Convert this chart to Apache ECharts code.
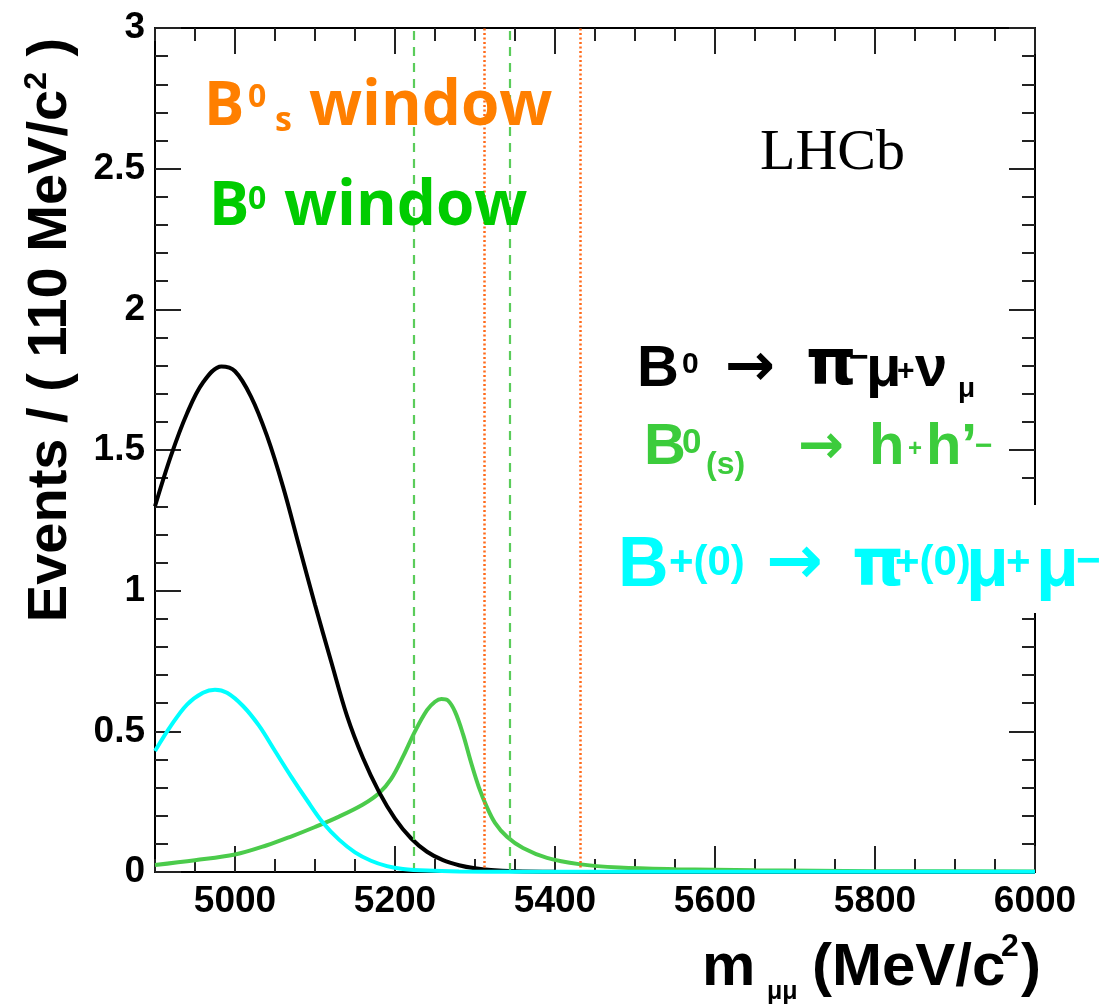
<!DOCTYPE html>
<html>
<head>
<meta charset="utf-8">
<script src="https://cdn.jsdelivr.net/npm/echarts@6/dist/echarts.min.js"></script>
<style>
  html, body { margin: 0; padding: 0; background: #fff; }
  #chart { width: 1105px; height: 1005px; }
</style>
</head>
<body>
<div id="chart"></div>
<script>
// Dimuon invariant mass (MeV/c^2) and expected events per 110 MeV/c^2 bin

// B0 -> pi- mu+ nu_mu
const massSemilep = [4900, 4920, 4940, 4960, 4983, 5000, 5020, 5040, 5060, 5080, 5100, 5120, 5140, 5160, 5180, 5200, 5220, 5240, 5260, 5280, 5300, 5320, 5350, 5400, 5500, 6000];
const evtSemilep  = [1.30, 1.48, 1.63, 1.74, 1.797, 1.78, 1.69, 1.55, 1.37, 1.16, 0.95, 0.75, 0.555, 0.405, 0.285, 0.19, 0.12, 0.072, 0.042, 0.024, 0.013, 0.007, 0.003, 0.001, 0, 0];

// B0(s) -> h+ h'- (misidentified)
const massPeaking = [4900, 4950, 5000, 5040, 5070, 5100, 5130, 5160, 5180, 5195, 5210, 5225, 5240, 5250, 5258, 5266, 5275, 5285, 5295, 5305, 5315, 5325, 5340, 5360, 5390, 5430, 5480, 5550, 5650, 5800, 6000];
const evtPeaking  = [0.025, 0.042, 0.062, 0.095, 0.126, 0.16, 0.197, 0.24, 0.28, 0.33, 0.41, 0.50, 0.575, 0.605, 0.615, 0.61, 0.57, 0.49, 0.39, 0.30, 0.23, 0.175, 0.125, 0.085, 0.050, 0.028, 0.016, 0.010, 0.006, 0.003, 0.002];

// B+(0) -> pi+(0) mu+ mu-
const massRare = [4900, 4920, 4940, 4960, 4975, 4990, 5010, 5030, 5050, 5070, 5090, 5110, 5130, 5150, 5170, 5190, 5210, 5240, 5280, 5350, 6000];
const evtRare  = [0.43, 0.52, 0.595, 0.637, 0.648, 0.637, 0.59, 0.52, 0.43, 0.34, 0.255, 0.175, 0.115, 0.07, 0.04, 0.021, 0.011, 0.005, 0.002, 0.001, 0.001];

// Signal mass windows
const windowB0 = [5224, 5344];
const windowBs = [5312, 5432];

// Axis ticks
const xMajorTicks = [5000, 5200, 5400, 5600, 5800, 6000];
const xRange = [4900, 6000];
const yRange = [0, 3];

const pairs = (xs, ys) => xs.map((x, i) => [x, ys[i]]);

const SANS = '"Liberation Sans", Arial, Helvetica, sans-serif';
const SERIF = '"Liberation Serif", "Times New Roman", serif';
const HUMAN = '"Open Sans", Lato, sans-serif';
const DEJAVU = '"DejaVu Sans", sans-serif';
const TICK = { color: '#222', width: 2 };

const frameX = (pos, major, withLabels) => ({
  type: 'value', min: xRange[0], max: xRange[1], position: pos,
  interval: major ? undefined : 50,
  splitLine: { show: false },
  axisLine: { show: major, onZero: false, lineStyle: { color: '#000', width: 2 } },
  axisTick: major
    ? { show: true, inside: true, length: 26, customValues: xMajorTicks, lineStyle: TICK }
    : { show: true, inside: true, length: 13, lineStyle: TICK },
  axisLabel: withLabels
    ? { show: true, customValues: xMajorTicks, formatter: v => String(v),
        fontFamily: SANS, fontWeight: 'bold', fontSize: 37, color: '#000', margin: 11 }
    : { show: false }
});

const frameY = (pos, major, withLabels) => ({
  type: 'value', min: yRange[0], max: yRange[1], position: pos,
  interval: major ? 0.5 : 0.1,
  splitLine: { show: false },
  axisLine: { show: major, onZero: false, lineStyle: { color: '#000', width: 2 } },
  axisTick: { show: true, inside: true, length: major ? 26 : 13, lineStyle: TICK },
  axisLabel: withLabels
    ? { show: true, fontFamily: SANS, fontWeight: 'bold', fontSize: 37, color: '#000', margin: 10 }
    : { show: false }
});

// Text pieces placed by baseline; k = distance from baseline to em-middle
const FONTS = {
  sans:  { family: SANS,   weight: 'bold',   k: 0.3465 },
  serif: { family: SERIF,  weight: 'normal', k: 0.3375 },
  human: { family: HUMAN,  weight: 'bold',   k: 0.388 },
  dejavu:{ family: DEJAVU, weight: 'bold',   k: 0.346 }
};
function piece(x, base, s, size, color, fam) {
  const f = FONTS[fam || 'sans'];
  return {
    type: 'text', x: x, y: base - f.k * size, z: 120, silent: true,
    style: { text: s, fill: color, fontSize: size, fontFamily: f.family, fontWeight: f.weight,
             textAlign: 'left', textVerticalAlign: 'middle' }
  };
}
// placed on a given middle line
function mid(x, y, s, size, color, fam) {
  const f = FONTS[fam || 'sans'];
  return {
    type: 'text', x: x, y: y, z: 120, silent: true,
    style: { text: s, fill: color, fontSize: size, fontFamily: f.family, fontWeight: f.weight,
             textAlign: 'left', textVerticalAlign: 'middle' }
  };
}

const ORANGE = '#ff7f00', WGREEN = '#00cc00', LGREEN = '#3ccc3c', CYAN = '#00ffff';

const labels = [
  // window captions
  piece(204, 131, 'B', 60, ORANGE, 'human'),
  piece(248, 110, '0', 32, ORANGE, 'human'),
  piece(275, 135, 's', 34, ORANGE, 'human'),
  piece(309, 131, 'window', 62, ORANGE, 'human'),
  piece(209, 231, 'B', 60, WGREEN, 'human'),
  piece(248, 212, '0', 32, WGREEN, 'human'),
  piece(284, 231, 'window', 62, WGREEN, 'human'),
  // experiment tag
  piece(760, 173, 'LHCb', 58, '#000', 'serif'),
  // B0 -> pi- mu+ nu
  piece(637, 390, 'B', 58, '#000'),
  piece(682, 375, '0', 30, '#000'),
  mid(725, 369, '→', 60, '#000', 'dejavu'),
  piece(806, 390, 'π', 64, '#000', 'dejavu'),
  mid(849, 359, '−', 34, '#000'),
  piece(866, 390, 'μ', 58, '#000'),
  mid(897, 372, '+', 30, '#000'),
  piece(915, 390, 'ν', 58, '#000'),
  piece(958, 399, 'μ', 28, '#000'),
  // B0(s) -> h+ h'-
  piece(644, 468, 'B', 58, LGREEN),
  piece(682, 455, '0', 35, LGREEN),
  piece(706, 476, '(s)', 32, LGREEN),
  mid(798, 449, '→', 55, LGREEN, 'dejavu'),
  piece(869, 468, 'h', 58, LGREEN),
  mid(908, 449, '+', 24, LGREEN),
  piece(926, 468, 'h', 58, LGREEN),
  piece(961, 468, '’', 58, LGREEN),
  mid(975, 447, '−', 30, LGREEN),
  // B+(0) -> pi+(0) mu+ mu-
  piece(618, 591, 'B', 70, CYAN),
  mid(669, 563, '+(0)', 42, CYAN),
  mid(766, 565, '→', 68, CYAN, 'dejavu'),
  piece(852, 591, 'π', 66, CYAN, 'dejavu'),
  mid(895, 563, '+(0)', 42, CYAN),
  piece(966, 591, 'μ', 70, CYAN),
  mid(1006, 563, '+', 42, CYAN),
  piece(1036, 591, 'μ', 70, CYAN),
  mid(1076, 562, '−', 42, CYAN),
  // x-axis title
  piece(702, 989, 'm', 60, '#000'),
  piece(767, 1001, 'μμ', 25, '#000'),
  piece(812, 989, '(MeV/c', 60, '#000'),
  piece(1001, 958, '2', 32, '#000'),
  piece(1021, 989, ')', 60, '#000')
];

const chart = echarts.init(document.getElementById('chart'), null, { renderer: 'canvas' });

const curve = (color, z) => ({
  type: 'line', showSymbol: false, smooth: 0.35, z: z,
  lineStyle: { color: color, width: 4 }
});

chart.setOption({
  backgroundColor: '#fff',
  animation: false,
  grid: { left: 155, top: 28, width: 880, height: 844, containLabel: false },
  xAxis: [
    frameX('bottom', true, true),
    frameX('bottom', false, false),
    frameX('top', true, false),
    frameX('top', false, false)
  ],
  yAxis: [
    frameY('left', true, true),
    frameY('left', false, false),
    frameY('right', true, false),
    frameY('right', false, false)
  ],
  series: [
    Object.assign(curve('#4bcb4b', 3), {
      name: 'B0(s) → h+h\'−', data: pairs(massPeaking, evtPeaking),
      markLine: {
        silent: true, symbol: 'none', label: { show: false },
        lineStyle: { color: '#5acc5a', width: 2.2, type: [9, 7] },
        data: windowB0.map(v => ({ xAxis: v }))
      }
    }),
    Object.assign(curve('#000', 4), {
      name: 'B0 → π−μ+ν', data: pairs(massSemilep, evtSemilep),
      markLine: {
        silent: true, symbol: 'none', label: { show: false },
        lineStyle: { color: '#ff6a1a', width: 2.5, type: [2, 2.5] },
        data: windowBs.map(v => ({ xAxis: v }))
      }
    }),
    Object.assign(curve(CYAN, 5), {
      name: 'B+(0) → π+(0)μ+μ−', data: pairs(massRare, evtRare)
    })
  ],
  graphic: [
    // white panel behind the B+(0) caption
    { type: 'rect', shape: { x: 612, y: 505, width: 493, height: 108 }, style: { fill: '#fff' }, z: 110, silent: true },
    {
      type: 'text', x: 51, y: 330, rotation: Math.PI / 2, z: 120, silent: true,
      style: {
        text: '{a|Events / ( 110 MeV/c}{s|2}{a| )}',
        textAlign: 'center', textVerticalAlign: 'middle',
        rich: {
          a: { fontFamily: SANS, fontWeight: 'bold', fontSize: 56, fill: '#000', lineHeight: 60 },
          s: { fontFamily: SANS, fontWeight: 'bold', fontSize: 32, fill: '#000', verticalAlign: 'top', lineHeight: 60 }
        }
      }
    }
  ].concat(labels)
});
</script>
</body>
</html>
